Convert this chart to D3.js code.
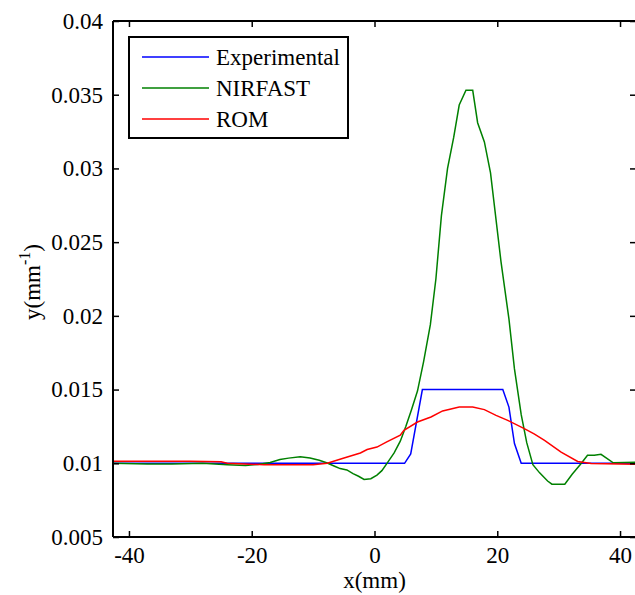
<!DOCTYPE html>
<html>
<head>
<meta charset="utf-8">
<script src="https://cdn.jsdelivr.net/npm/d3@7"></script>
<style>
  body { margin: 0; background: #fff; }
  svg text { font-family: "Liberation Serif", "Times New Roman", serif; }
</style>
</head>
<body>
<div id="chart"></div>
<script>
// series
const expX = [-42.6, 4.9, 5.9, 7.8, 20.9, 21.9, 22.8, 23.9, 42.6];
const expY = [0.0100, 0.0100, 0.01064, 0.0150, 0.0150, 0.01381, 0.01134, 0.0100, 0.0100];

const nirX = [-42.6, -37, -33, -28, -24, -21, -19, -17, -15.4, -14, -12.1, -10.5, -9, -7.7, -6.5, -5.6, -4.5, -3.5,
              -2.6, -1.7, -0.6, 0.4, 1.2, 2.2, 3.2, 4.2, 5.1, 6.0, 7.0, 8.0, 9.1, 10.0, 10.9, 11.9, 12.9, 13.8,
              14.9, 16.0, 16.8, 17.9, 18.9, 20.6, 21.9, 22.8, 23.9, 24.8, 25.8, 26.9, 28.2, 28.9, 31.0, 32.2,
              33.6, 34.7, 35.8, 36.9, 38.9, 42.6];
const nirY = [0.0100, 0.00995, 0.00995, 0.0100, 0.0099, 0.00985, 0.00992, 0.01005, 0.01025, 0.01035, 0.01045, 0.01036,
              0.0102, 0.01002, 0.0098, 0.00964, 0.00955, 0.0093, 0.00912, 0.0089, 0.00895, 0.0092, 0.0095, 0.0101,
              0.0107, 0.0115, 0.0125, 0.0136, 0.0149, 0.0169, 0.0194, 0.0225, 0.0268, 0.0300, 0.0321, 0.0343,
              0.0353, 0.0353, 0.0331, 0.0318, 0.0297, 0.0237, 0.0198, 0.0164, 0.0133, 0.0114, 0.0099, 0.00935,
              0.0088, 0.00858, 0.00858, 0.00926, 0.00995, 0.01054, 0.01054, 0.01061, 0.01003, 0.01008];

const romX = [-42.6, -30, -25, -24, -18, -10, -7.7, -5.1, -2.3, -1.2, 0.4, 2.0, 4.2, 4.8, 7.0, 9.2, 11.1,
              13.8, 16.0, 17.9, 19.8, 21.7, 24.4, 26.0, 27.7, 30.4, 33.1, 35.3, 42.6];
const romY = [0.01013, 0.01013, 0.0101, 0.0100, 0.0099, 0.0099, 0.0100, 0.01034, 0.0107, 0.01093, 0.0111, 0.01145,
              0.0119, 0.01224, 0.0128, 0.01314, 0.01355, 0.01382, 0.01382, 0.01364, 0.01325, 0.01291,
              0.01235, 0.01199, 0.01156, 0.01076, 0.01012, 0.00998, 0.00993];

const seriesNames = ["Experimental", "NIRFAST", "ROM"];
const seriesColors = ["#0000ff", "#008000", "#ff0000"];

const xTicks = [-40, -20, 0, 20, 40];
const yTicks = [0.005, 0.01, 0.015, 0.02, 0.025, 0.03, 0.035, 0.04];
const yTickLabels = ["0.005", "0.01", "0.015", "0.02", "0.025", "0.03", "0.035", "0.04"];

const W = 635, H = 595;
const pLeft = 113, pRight = 636, pTop = 21, pBottom = 537;
const serif = "Liberation Serif, Times New Roman, serif";
const fs = 23;

const svg = d3.select("#chart").append("svg")
    .attr("width", W).attr("height", H)
    .attr("font-family", serif);

const x = d3.scaleLinear().domain([-42.6, 42.6]).range([pLeft, pRight]);
const y = d3.scaleLinear().domain([0.005, 0.04]).range([pBottom, pTop]);

const series = [
  { name: seriesNames[0], color: seriesColors[0], xs: expX, ys: expY },
  { name: seriesNames[1], color: seriesColors[1], xs: nirX, ys: nirY },
  { name: seriesNames[2], color: seriesColors[2], xs: romX, ys: romY }
];

const line = d3.line()
    .x(d => x(d[0]))
    .y(d => y(d[1]));

svg.append("defs").append("clipPath").attr("id", "clip")
  .append("rect").attr("x", pLeft).attr("y", pTop)
  .attr("width", pRight - pLeft).attr("height", pBottom - pTop);

svg.append("g").attr("clip-path", "url(#clip)")
  .selectAll("path")
  .data(series)
  .enter().append("path")
    .attr("d", s => line(d3.zip(s.xs, s.ys)))
    .attr("fill", "none")
    .attr("stroke", s => s.color)
    .attr("stroke-width", 1.5);

// axes, ticks pointing inward on all four sides
const xBottom = svg.append("g").attr("transform", "translate(0," + pBottom + ")")
    .call(d3.axisBottom(x).tickValues(xTicks).tickSize(-6).tickPadding(10).tickFormat(d => String(d)));
const xTop = svg.append("g").attr("transform", "translate(0," + pTop + ")")
    .call(d3.axisTop(x).tickValues(xTicks).tickSize(-6).tickFormat(""));
const yLeft = svg.append("g").attr("transform", "translate(" + pLeft + ",0)")
    .call(d3.axisLeft(y).tickValues(yTicks).tickSize(-6).tickPadding(10)
      .tickFormat((d, i) => yTickLabels[i]));
const yRight = svg.append("g").attr("transform", "translate(" + pRight + ",0)")
    .call(d3.axisRight(y).tickValues(yTicks).tickSize(-6).tickFormat(""));

[xBottom, xTop, yLeft, yRight].forEach(g => {
  g.attr("font-family", serif).attr("font-size", fs);
  g.select(".domain").attr("stroke", "#000").attr("stroke-width", 2);
  g.selectAll(".tick line").attr("stroke", "#000").attr("stroke-width", 1.5);
  g.selectAll(".tick text").attr("fill", "#000");
});
xBottom.selectAll(".domain").attr("d", "M" + pLeft + ",0H" + pRight);
yLeft.selectAll(".domain").attr("d", "M0," + pTop + "V" + pBottom);
xTop.selectAll(".domain").attr("d", "M" + pLeft + ",0H" + pRight);
yRight.selectAll(".domain").attr("d", "M0," + pTop + "V" + pBottom);

// axis titles
svg.append("text")
    .attr("x", (pLeft + pRight) / 2).attr("y", 588)
    .attr("text-anchor", "middle")
    .attr("font-size", fs)
    .text("x(mm)");

const yl = svg.append("text")
    .attr("transform", "translate(40," + 282 + ") rotate(-90)")
    .attr("text-anchor", "middle")
    .attr("font-size", fs);
yl.append("tspan").text("y(mm");
yl.append("tspan").attr("dy", -10).attr("font-size", 16).text("-1");
yl.append("tspan").attr("dy", 10).text(")");

// legend
const legend = svg.append("g");
legend.append("rect")
    .attr("x", 129).attr("y", 37).attr("width", 219).attr("height", 101)
    .attr("fill", "#fff").attr("stroke", "#000").attr("stroke-width", 2);

const rows = legend.selectAll("g.row")
    .data(series)
    .enter().append("g")
    .attr("class", "row")
    .attr("transform", (d, i) => "translate(0," + (57 + i * 31) + ")");

rows.append("line")
    .attr("x1", 142).attr("x2", 209)
    .attr("y1", 0).attr("y2", 0)
    .attr("stroke", d => d.color)
    .attr("stroke-width", 1.5);

rows.append("text")
    .attr("x", 216).attr("y", 0)
    .attr("dy", "0.35em")
    .attr("font-size", fs)
    .text(d => d.name);
</script>
</body>
</html>
